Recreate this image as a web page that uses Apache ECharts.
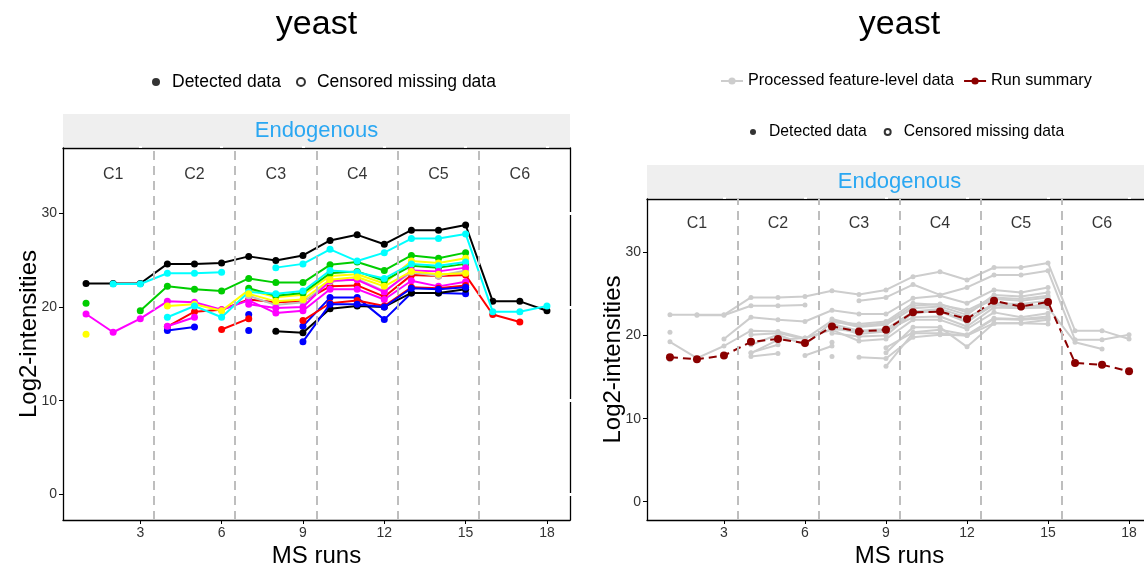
<!DOCTYPE html>
<html><head><meta charset="utf-8">
<script src="https://cdn.jsdelivr.net/npm/echarts@6/dist/echarts.min.js"></script>
<style>html,body{margin:0;padding:0;background:#fff}#c{width:1144px;height:568px}</style>
</head><body><div id="c"></div>
<script>
// ---------- data ----------
const runs = [1,2,3,4,5,6,7,8,9,10,11,12,13,14,15,16,17,18];
const conditions = ['C1','C2','C3','C4','C5','C6'];
const conditionRuns = [[1,2,3],[4,5,6],[7,8,9],[10,11,12],[13,14,15],[16,17,18]];
const xTicks = [3,6,9,12,15,18];
const yTicks = [0,10,20,30];
const proteinName = 'yeast';
const stripLabel = 'Endogenous';
const featureColors = ['#000000','#FF0000','#00CD00','#0000FF','#00FFFF','#FF00FF','#FFFF00','#BEBEBE',
                       '#000000','#FF0000','#00CD00','#0000FF','#00FFFF','#FF00FF','#FFFF00'];
const f1  = [22.5,22.5,22.5,24.6,24.6,24.7,25.4,24.95,25.5,27.1,27.7,26.7,28.2,28.2,28.75,20.6,20.6,19.6];
const f2  = [null,null,null,17.9,19.5,19.7,20.8,20.5,20.6,22.2,22.3,21.1,23.4,23.3,23.4,19.2,18.4,null];
const f3  = [20.4,null,19.6,22.2,21.9,21.7,23.05,22.6,22.6,24.5,24.8,23.9,25.5,25.2,25.8,null,null,null];
const f4  = [null,null,null,17.5,17.85,null,19.2,null,17.95,21.0,21.0,18.65,21.5,21.5,21.4,null,null,null];
const f5  = [null,22.45,22.45,23.6,23.6,23.7,null,24.2,24.6,26.15,24.9,25.8,27.3,27.3,27.8,19.5,19.5,20.1];
const f6  = [19.25,17.3,18.75,20.6,20.5,19.7,20.7,19.35,19.6,21.9,21.9,20.8,22.8,22.2,22.7,null,null,null];
const f7  = [17.1,null,null,20.1,20.3,19.6,21.8,21.05,21.3,23.3,23.5,22.5,24.9,24.7,25.2,null,null,null];
const f8  = [null,null,null,null,null,null,21.2,20.2,20.5,22.7,23.0,21.7,23.7,23.3,23.9,null,null,null];
const f9  = [null,null,null,null,null,null,null,17.4,17.25,19.8,20.1,20.0,21.5,21.5,21.9,null,null,null];
const f10 = [null,null,null,null,null,17.6,18.75,null,18.55,20.4,20.7,20.1,22.1,22.0,22.3,null,null,null];
const f11 = [null,null,null,null,null,null,22.0,21.2,21.5,23.6,23.8,22.8,24.4,24.2,24.6,null,null,null];
const f12 = [null,null,null,null,null,null,17.5,null,16.3,20.3,20.3,20.0,22.0,21.9,22.1,null,null,null];
const f13 = [null,null,null,18.9,20.1,18.9,21.6,21.4,21.7,23.9,23.7,23.05,24.6,24.4,24.8,null,null,null];
const f14 = [null,null,null,17.95,18.9,null,20.3,19.9,20.0,22.8,22.9,21.6,23.9,23.8,24.2,null,null,null];
const f15 = [null,null,null,null,null,null,21.4,20.6,20.8,22.9,23.2,22.2,23.8,23.5,23.6,null,null,null];
const runSummary = [17.4,17.15,17.6,19.25,19.6,19.1,21.1,20.5,20.7,22.8,22.9,22.0,24.2,23.5,24.05,16.7,16.5,15.7];
const features = [f1,f2,f3,f4,f5,f6,f7,f8,f9,f10,f11,f12,f13,f14,f15];

// ---------- layout / style ----------
const FONT = '"Liberation Sans", Arial, Helvetica, sans-serif';
const panels = [
  {grid:{left:63, top:148, width:507, height:372, outerBoundsMode:'none', containLabel:false}, yMin:-2.74, yMax:36.97, labelY:34.1, center:316.5},
  {grid:{left:647, top:199, width:505, height:321, outerBoundsMode:'none', containLabel:false}, yMin:-2.2, yMax:36.45, labelY:33.45, center:899.5}
];
const pairs = arr => arr.map((v,i) => [runs[i], v == null ? '-' : v]);
const dividers = conditionRuns.slice(0,-1).map(r => r[r.length-1] + 0.5);
const condCenters = conditionRuns.map(r => r.reduce((a,b)=>a+b,0)/r.length);

const grids = [], xAxes = [], yAxes = [], series = [];
panels.forEach((p, pi) => {
  grids.push(p.grid);
  const xi = xAxes.length, yi = yAxes.length;
  xAxes.push({type:'value', gridIndex:pi, min:0.15, max:18.85, position:'bottom',
    axisLine:{show:true, onZero:false, lineStyle:{color:'#000', width:1.3}},
    axisTick:{show:true, customValues:xTicks, length:4, lineStyle:{color:'#000', width:1}},
    axisLabel:{show:true, customValues:xTicks, color:'#333', fontSize:14, fontFamily:FONT, margin:6},
    splitLine:{show:false},
    name:'MS runs', nameLocation:'middle', nameGap:24, nameMoveOverlap:false,
    nameTextStyle:{fontSize:24, color:'#000', fontFamily:FONT}});
  xAxes.push({type:'value', gridIndex:pi, min:0.15, max:18.85, position:'top',
    axisLine:{show:true, onZero:false, lineStyle:{color:'#000', width:1.3}},
    axisTick:{show:true, customValues:xTicks, length:2, lineStyle:{color:'#fff', width:3}},
    axisLabel:{show:false}, splitLine:{show:false}});
  xAxes.push({type:'value', gridIndex:pi, min:0.15, max:18.85, position:'top',
    axisLine:{show:false}, axisTick:{show:true, inside:true, customValues:xTicks, length:2, lineStyle:{color:'#fff', width:3}},
    axisLabel:{show:false}, splitLine:{show:false}});
  yAxes.push({type:'value', gridIndex:pi, min:p.yMin, max:p.yMax, position:'left',
    axisLine:{show:true, onZero:false, lineStyle:{color:'#000', width:1.3}},
    axisTick:{show:true, customValues:yTicks, length:4, lineStyle:{color:'#000', width:1}},
    axisLabel:{show:true, customValues:yTicks, color:'#333', fontSize:14, fontFamily:FONT, margin:6},
    splitLine:{show:false},
    name:'Log2-intensities', nameLocation:'middle', nameGap:22, nameMoveOverlap:false,
    nameTextStyle:{fontSize:24, color:'#000', fontFamily:FONT}});
  yAxes.push({type:'value', gridIndex:pi, min:p.yMin, max:p.yMax, position:'right',
    axisLine:{show:true, onZero:false, lineStyle:{color:'#000', width:1.3}},
    axisTick:{show:true, customValues:yTicks, length:2, lineStyle:{color:'#fff', width:3}},
    axisLabel:{show:false}, splitLine:{show:false}});
  yAxes.push({type:'value', gridIndex:pi, min:p.yMin, max:p.yMax, position:'right',
    axisLine:{show:false}, axisTick:{show:true, inside:true, customValues:yTicks, length:2, lineStyle:{color:'#fff', width:3}},
    axisLabel:{show:false}, splitLine:{show:false}});

  series.push({type:'scatter', xAxisIndex:xi, yAxisIndex:yi, silent:true, z:1,
    symbolSize:1, itemStyle:{color:'rgba(0,0,0,0)'},
    data: conditions.map((c,i)=>({name:c, value:[condCenters[i], p.labelY]})),
    label:{show:true, position:'inside', formatter:'{b}', fontSize:16, color:'#000', fontFamily:FONT},
    markLine:{silent:true, symbol:['none','none'], label:{show:false},
      lineStyle:{color:'#BEBEBE', type:[9,6], width:2},
      data: dividers.map(v=>({xAxis:v}))}});
});

features.forEach((f, i) => {
  series.push({type:'line', xAxisIndex:0, yAxisIndex:0, data:pairs(f), z:2+i*0.01,
    symbol:'circle', symbolSize:7, showSymbol:true, showAllSymbol:true, connectNulls:false,
    lineStyle:{color:featureColors[i], width:2}, itemStyle:{color:featureColors[i]},
    silent:true, emphasis:{disabled:true}});
});
features.forEach((f, i) => {
  series.push({type:'line', name:'Processed feature-level data', xAxisIndex:3, yAxisIndex:3, data:pairs(f), z:2,
    symbol:'circle', symbolSize:5, showSymbol:true, showAllSymbol:true, connectNulls:false,
    lineStyle:{color:'#CDCDCD', width:2}, itemStyle:{color:'#CDCDCD'},
    silent:true, emphasis:{disabled:true}});
});
series.push({type:'line', name:'Run summary', xAxisIndex:3, yAxisIndex:3, data:pairs(runSummary), z:3,
  symbol:'circle', symbolSize:8, showSymbol:true, showAllSymbol:true,
  lineStyle:{color:'#8B0000', width:2, type:[8,5]}, itemStyle:{color:'#8B0000'},
  silent:true, emphasis:{disabled:true}});
series.push({type:'scatter', name:'Detected data', xAxisIndex:0, yAxisIndex:0, data:[], symbol:'circle', itemStyle:{color:'#000'}});
series.push({type:'scatter', name:'Censored missing data', xAxisIndex:0, yAxisIndex:0, data:[], symbol:'emptyCircle', itemStyle:{color:'#000'}});

const graphics = [];
panels.forEach((p) => {
  graphics.push({type:'text', x:p.center, y:25, silent:true,
    style:{text:proteinName, align:'center', verticalAlign:'middle', fontSize:34, fontFamily:FONT, fill:'#000'}});
  graphics.push({type:'rect', silent:true, z:-1,
    shape:{x:p.grid.left, y:p.grid.top-34, width:p.grid.width, height:33},
    style:{fill:'#EFEFEF'}});
  graphics.push({type:'text', x:p.center, y:p.grid.top-17.5, silent:true,
    style:{text:stripLabel, align:'center', verticalAlign:'middle', fontSize:22, fontFamily:FONT, fill:'#2AA7F2'}});
});

const legendText = {color:'#000', fontFamily:FONT};
const option = {
  animation:false,
  backgroundColor:'#fff',
  grid:grids, xAxis:xAxes, yAxis:yAxes, series:series, graphic:graphics,
  legend:[
    {left:147, top:68, itemWidth:22, itemHeight:8, itemGap:15, selectedMode:false,
     data:['Detected data', {name:'Censored missing data', icon:'emptyCircle'}],
     textStyle:Object.assign({fontSize:17.5}, legendText)},
    {left:715, top:68, itemWidth:22, itemHeight:9, itemGap:9, selectedMode:false,
     data:['Processed feature-level data', {name:'Run summary', lineStyle:{type:'solid'}}],
     textStyle:Object.assign({fontSize:16.2}, legendText)},
    {left:745, top:119, itemWidth:22, itemHeight:6, itemGap:17, selectedMode:false,
     data:['Detected data', {name:'Censored missing data', icon:'emptyCircle'}],
     textStyle:Object.assign({fontSize:15.7}, legendText)}
  ]
};
const chart = echarts.init(document.getElementById('c'), null, {renderer:'canvas'});
chart.setOption(option);
</script></body></html>
